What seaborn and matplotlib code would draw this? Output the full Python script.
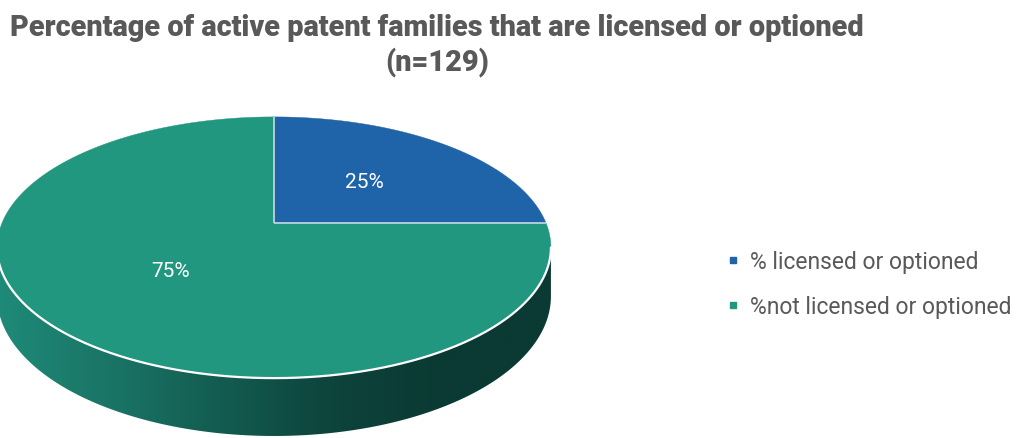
import numpy as np
import matplotlib
matplotlib.use("Agg")
import matplotlib.pyplot as plt
from matplotlib.colors import LinearSegmentedColormap
from matplotlib.lines import Line2D
from matplotlib.patches import Polygon
import seaborn as sns

# ---- data ----
categories = ["% licensed or optioned", "%not licensed or optioned"]
shares = [25, 75]
slice_colors = ["#1f63a8", "#21977f"]
title_lines = ["Percentage of active patent families that are licensed or optioned",
               "(n=129)"]

sns.set_theme(style="white")
plt.rcParams["font.family"] = ["Roboto", "DejaVu Sans"]
palette = sns.color_palette(slice_colors)

W, H = 1017, 439
fig = plt.figure(figsize=(W / 100, H / 100), dpi=100)
ax = fig.add_axes([0, 0, 1, 1])
ax.set_xlim(0, W)
ax.set_ylim(H, 0)
ax.axis("off")

# ---- 3D pie geometry (pixel space) ----
cx, cy = 274, 224        # projected pie centre
rx, ry = 272, 126        # horizontal / vertical radius scale
persp = 0.1877           # perspective foreshortening
depth = 47               # thickness of the disc


def project(theta, r=1.0, z=0.0):
    """theta: clockwise from 12 o'clock; z: downward thickness offset."""
    u = r * np.sin(theta)
    v = -r * np.cos(theta)
    w = 1 - persp * v
    return cx + rx * u / w, cy + (ry * v + z) / w


fractions = np.array(shares, dtype=float) / np.sum(shares)
bounds = np.concatenate([[0], np.cumsum(fractions)]) * 2 * np.pi

# visible front wall between the two silhouette angles, shaded left to right
t0 = np.arccos(-persp)
t1 = 2 * np.pi - t0
ts = np.linspace(t0, t1, 500)
xt, yt = project(ts)
xb, yb = project(ts, z=depth)
wall = Polygon(np.column_stack([np.r_[xt, xb[::-1]], np.r_[yt, yb[::-1]]]),
               closed=True, facecolor="none", edgecolor="none")
ax.add_patch(wall)
wall_cmap = LinearSegmentedColormap.from_list(
    "wall", ["#1f8a78", "#1a7566", "#135c51", "#0d443c", "#0a3a33", "#0a3a33"])
grad = np.linspace(0, 1, 512)[None, :]
x_lo, x_hi = xt.min(), xt.max()
img = ax.imshow(grad, cmap=wall_cmap, aspect="auto", interpolation="bilinear",
                extent=(x_lo, x_hi, yb.max() + 2, yt.min() - 2), zorder=1)
img.set_clip_path(wall)
ax.set_xlim(0, W)
ax.set_ylim(H, 0)

# top face wedges
for i, col in enumerate(palette):
    tt = np.linspace(bounds[i], bounds[i + 1], 300)
    px, py = project(tt)
    pts = np.column_stack([np.r_[cx, px], np.r_[cy, py]])
    ax.add_patch(Polygon(pts, closed=True, facecolor=col, edgecolor=col,
                         lw=0.3, zorder=2))

# radial separators
for b in bounds[:-1]:
    ex, ey = project(b)
    ax.plot([cx, ex], [cy, ey], color="#c9d8e6", lw=1.2,
            solid_capstyle="butt", zorder=3)

# highlight on the front rim
ax.plot(xt, yt, color="white", lw=1.6, zorder=3)

# value labels
for i in range(len(shares)):
    mid = 0.5 * (bounds[i] + bounds[i + 1])
    lx, ly = project(mid, r=0.5)
    ax.text(lx, ly, f"{shares[i]}%", color="white", fontsize=15,
            ha="center", va="center", zorder=4)

# title
for line, y in zip(title_lines, [36, 70]):
    ax.text(437, y, line, ha="center", va="baseline",
            fontsize=20.8, fontweight=900, color="#595959")

# legend
handles = [Line2D([], [], marker="s", linestyle="", markersize=5,
                  markerfacecolor=c, markeredgecolor=c) for c in palette]
ax.legend(handles, categories, loc="center left",
          bbox_to_anchor=(726 / W, 1 - 285 / H), frameon=False,
          fontsize=16.5, labelcolor="#595959", handlelength=0.6,
          handletextpad=0.45, labelspacing=0.95, borderpad=0, borderaxespad=0)

fig.savefig("out.png", dpi=100)
